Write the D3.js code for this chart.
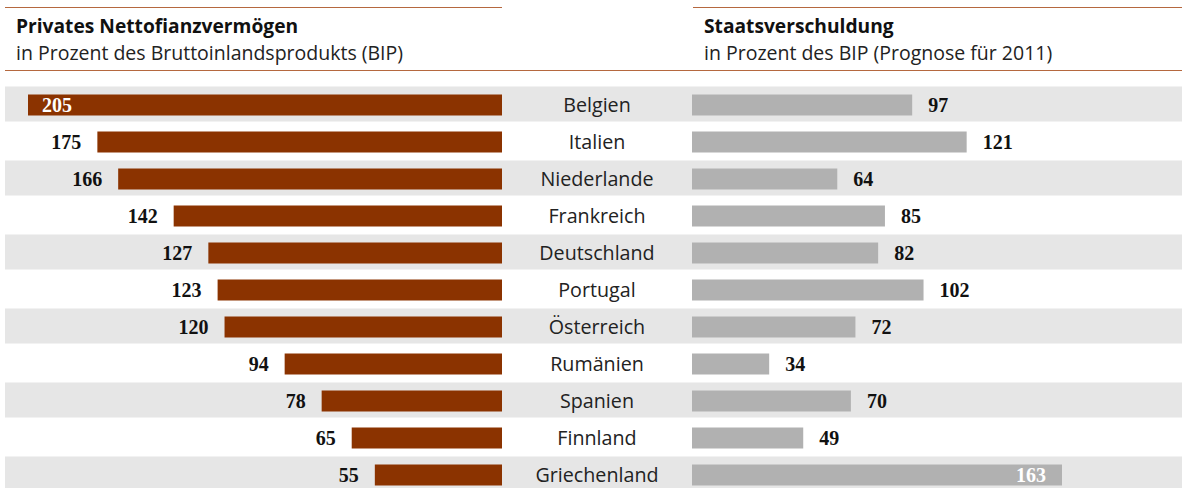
<!DOCTYPE html>
<html>
<head>
<meta charset="utf-8">
<script src="https://cdn.jsdelivr.net/npm/d3@7"></script>
<style>
  body { margin: 0; background: #fff; }
  svg { display: block; }
</style>
</head>
<body>
<svg width="1182" height="488"></svg>
<script>
var laender = ["Belgien", "Italien", "Niederlande", "Frankreich", "Deutschland", "Portugal", "Österreich", "Rumänien", "Spanien", "Finnland", "Griechenland"];
var vermoegen = [205, 175, 166, 142, 127, 123, 120, 94, 78, 65, 55];
var schulden = [97, 121, 64, 85, 82, 102, 72, 34, 70, 49, 163];

var svg = d3.select("svg"),
 width = +svg.attr("width"),
 height = +svg.attr("height");

var braun = "#8b3300", grau = "#b1b1b1", band = "#e6e6e6", linie = "#b5683f";
var sans = "'Open Sans', Lato, sans-serif", serif = "'Liberation Serif', serif";

var y = d3.scaleBand()
  .domain(laender)
  .range([85.5, 85.5 + 37 * 11])
  .paddingInner(0);

var xl = d3.scaleLinear().domain([0, 205]).range([502, 28]);
var xr = d3.scaleLinear().domain([0, 163]).range([692, 1062]);

// Streifen
svg.append("g").selectAll("rect")
  .data(laender.filter(function(d, i) { return i % 2 == 0; }))
  .enter().append("rect")
  .attr("x", 5)
  .attr("width", width - 5)
  .attr("y", function(d) { return y(d) + 1; })
  .attr("height", 35)
  .attr("fill", band);

// Linien
svg.append("line").attr("x1", 5).attr("x2", 502).attr("y1", 7.5).attr("y2", 7.5).attr("stroke", linie).attr("stroke-width", 1.2);
svg.append("line").attr("x1", 693).attr("x2", width).attr("y1", 7.5).attr("y2", 7.5).attr("stroke", linie).attr("stroke-width", 1.2);
svg.append("line").attr("x1", 5).attr("x2", width).attr("y1", 70.5).attr("y2", 70.5).attr("stroke", linie).attr("stroke-width", 1.2);

// Titel
function titel(x, t1, t2) {
  svg.append("text").attr("x", x).attr("y", 33)
    .attr("font-family", sans).attr("font-weight", "bold").attr("font-size", 19.2)
    .attr("fill", "#111").text(t1);
  svg.append("text").attr("x", x).attr("y", 59.5)
    .attr("font-family", sans).attr("font-size", 19.5)
    .attr("fill", "#222").text(t2);
}
titel(16, "Privates Nettofianzvermögen", "in Prozent des Bruttoinlandsprodukts (BIP)");
titel(704, "Staatsverschuldung", "in Prozent des BIP (Prognose für 2011)");

var bh = 21;
function mitte(d) { return y(d) + y.bandwidth() / 2 + 1; }

// linke Balken
var links = svg.append("g").selectAll("g")
  .data(laender)
  .enter().append("g");

links.append("rect")
  .attr("x", function(d, i) { return xl(vermoegen[i]); })
  .attr("width", function(d, i) { return xl(0) - xl(vermoegen[i]); })
  .attr("y", function(d) { return mitte(d) - bh / 2; })
  .attr("height", bh)
  .attr("fill", braun);

links.append("text")
  .attr("x", function(d, i) { return vermoegen[i] > 200 ? xl(vermoegen[i]) + 14 : xl(vermoegen[i]) - 16; })
  .attr("y", function(d) { return mitte(d) + 7; })
  .attr("text-anchor", function(d, i) { return vermoegen[i] > 200 ? "start" : "end"; })
  .attr("font-family", serif).attr("font-weight", "bold").attr("font-size", 20)
  .attr("fill", function(d, i) { return vermoegen[i] > 200 ? "#fff" : "#111"; })
  .text(function(d, i) { return vermoegen[i]; });

// Ländernamen
svg.append("g").selectAll("text")
  .data(laender)
  .enter().append("text")
  .attr("x", 597)
  .attr("y", function(d) { return mitte(d) + 7; })
  .attr("text-anchor", "middle")
  .attr("font-family", sans).attr("font-size", 19.7)
  .attr("fill", "#222")
  .text(function(d) { return d; });

// rechte Balken
var rechts = svg.append("g").selectAll("g")
  .data(laender)
  .enter().append("g");

rechts.append("rect")
  .attr("x", xr(0))
  .attr("width", function(d, i) { return xr(schulden[i]) - xr(0); })
  .attr("y", function(d) { return mitte(d) - bh / 2; })
  .attr("height", bh)
  .attr("fill", grau);

rechts.append("text")
  .attr("x", function(d, i) { return schulden[i] > 150 ? xr(schulden[i]) - 16 : xr(schulden[i]) + 16; })
  .attr("y", function(d) { return mitte(d) + 7; })
  .attr("text-anchor", function(d, i) { return schulden[i] > 150 ? "end" : "start"; })
  .attr("font-family", serif).attr("font-weight", "bold").attr("font-size", 20)
  .attr("fill", function(d, i) { return schulden[i] > 150 ? "#fff" : "#111"; })
  .text(function(d, i) { return schulden[i]; });
</script>
</body>
</html>
